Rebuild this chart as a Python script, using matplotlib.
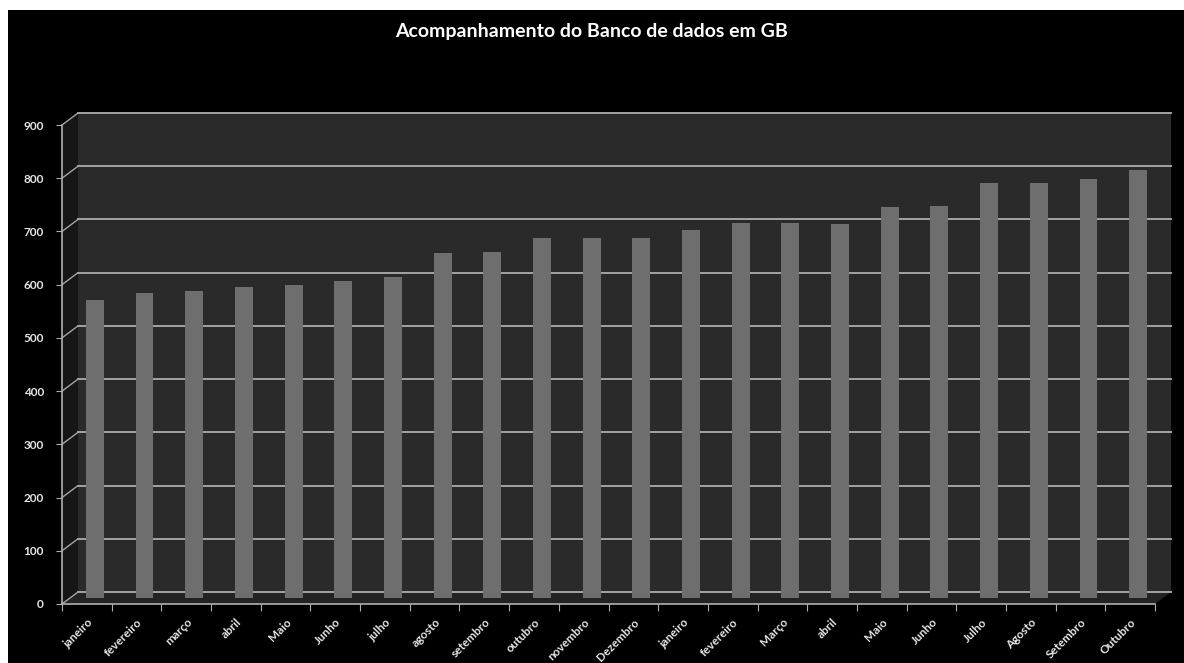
import matplotlib
matplotlib.use("Agg")
import matplotlib.pyplot as plt
from matplotlib.patches import Rectangle, Polygon, ConnectionPatch
from matplotlib.transforms import offset_copy, IdentityTransform
import numpy as np

title = "Acompanhamento do Banco de dados em GB"
months = ["janeiro", "fevereiro", "março", "abril", "Maio", "Junho", "julho",
          "agosto", "setembro", "outubro", "novembro", "Dezembro",
          "janeiro", "fevereiro", "Março", "abril", "Maio", "Junho", "Julho",
          "Agosto", "Setembro", "Outubro"]
values_gb = [560, 573, 577, 584, 588, 595, 603, 648, 650, 676, 676, 676,
             692, 705, 705, 703, 735, 737, 780, 780, 788, 805]
y_ticks = [0, 100, 200, 300, 400, 500, 600, 700, 800, 900]

W, H = 1184, 663
fig = plt.figure(figsize=(W / 100, H / 100), dpi=100, facecolor="white")
# black chart background with small white margin at left/top
fig.patches.append(Rectangle((8 / W, 0), 1 - 8 / W, (H - 10) / H,
                             transform=fig.transFigure, facecolor="black",
                             edgecolor="none", zorder=-10))

ax = fig.add_axes([62 / W, (H - 604) / H, (1155 - 62) / W, (604 - 125) / H])
ax.set_facecolor("none")
n = len(months)
x = np.arange(n)
ax.set_xlim(-0.5, n - 0.5)
ax.set_ylim(0, y_ticks[-1])

DX, DY = 16, 12  # depth offset in pixels
back = offset_copy(ax.transData, fig=fig, x=DX, y=DY, units="dots")
mid = offset_copy(ax.transData, fig=fig, x=DX / 2, y=DY / 2, units="dots")

wall_col = "#2b2a2a"
grid_col = "#a4a4a4"

# back wall
ax.add_patch(Rectangle((-0.5, 0), n, y_ticks[-1], transform=back,
                       facecolor=wall_col, edgecolor="none", zorder=0, clip_on=False))

# floor and side wall (display coords)
def disp(tr, pt):
    return tr.transform(pt)

f0 = disp(ax.transData, (-0.5, 0)); f1 = disp(ax.transData, (n - 0.5, 0))
b0 = disp(back, (-0.5, 0)); b1 = disp(back, (n - 0.5, 0))
ax.add_patch(Polygon([f0, f1, b1, b0], closed=True, transform=IdentityTransform(),
                     facecolor="#232323", edgecolor="none", zorder=0, clip_on=False))
ft = disp(ax.transData, (-0.5, y_ticks[-1])); bt = disp(back, (-0.5, y_ticks[-1]))
ax.add_patch(Polygon([f0, ft, bt, b0], closed=True, transform=IdentityTransform(),
                     facecolor="#161616", edgecolor="none", zorder=0, clip_on=False))

# gridlines on back wall + diagonals on side wall
for v in y_ticks:
    ax.plot([-0.5, n - 0.5], [v, v], transform=back, color=grid_col, lw=1.4,
            zorder=1, clip_on=False)
    cp = ConnectionPatch(xyA=(-0.5, v), coordsA=ax.transData,
                         xyB=(-0.5, v), coordsB=back, color=grid_col, lw=1.0, zorder=1)
    ax.add_artist(cp)

# bars
ax.bar(x, values_gb, width=0.36, color="#6e6e6e", edgecolor="none",
       transform=mid, zorder=3, clip_on=False)

# axes
for s in ["top", "right"]:
    ax.spines[s].set_visible(False)
for s in ["left", "bottom"]:
    ax.spines[s].set_color("#b0b0b0")
    ax.spines[s].set_linewidth(1.2)
    ax.spines[s].set_zorder(5)

ax.set_yticks(y_ticks)
ax.set_yticklabels([str(v) for v in y_ticks])
ax.tick_params(axis="y", colors="#b0b0b0", labelcolor="#e6e6e6", length=4,
               labelsize=8.5, pad=9)
ax.set_xticks(np.arange(-0.5, n, 1.0))
ax.set_xticklabels([])
ax.tick_params(axis="x", which="major", colors="#b0b0b0", length=5, direction="out")
ax.set_xticks(x, minor=True)
ax.set_xticklabels(months, minor=True, rotation=45, ha="right", va="top",
                   rotation_mode="anchor", color="#e6e6e6", fontsize=8.5)
ax.tick_params(axis="x", which="minor", length=0, pad=9)

for lab in ax.get_xticklabels(minor=True) + ax.get_yticklabels():
    lab.set_family(["Lato", "DejaVu Sans"])
    lab.set_fontweight("bold")

fig.text(0.5, 1 - 31 / H, title, ha="center", va="center", color="white",
         fontsize=14, fontweight="bold", family=["Lato", "DejaVu Sans"])

fig.savefig("out.png", dpi=100, facecolor=fig.get_facecolor())
